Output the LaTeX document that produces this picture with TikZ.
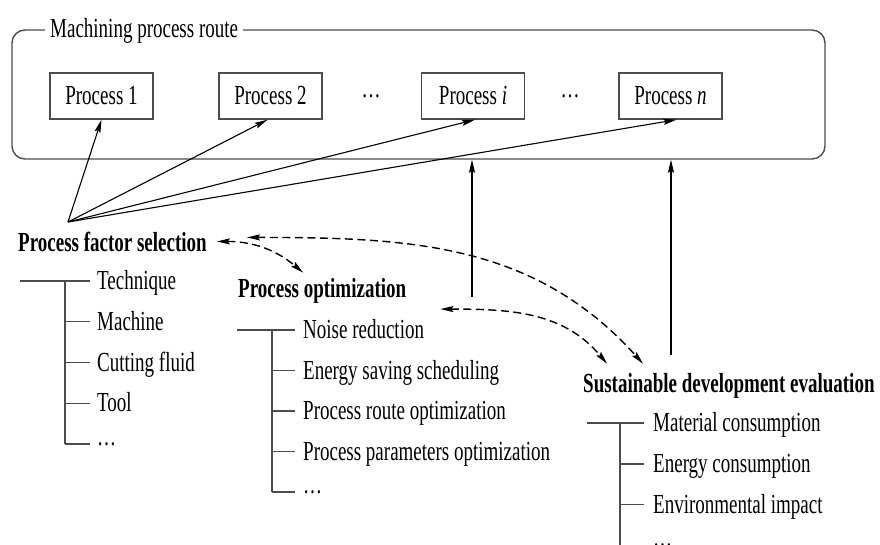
\documentclass[tikz,border=0pt]{standalone}
\usepackage{fontspec}
\setmainfont{Liberation Serif}
\usepackage{graphicx}
\usetikzlibrary{calc}
\usetikzlibrary{positioning}
\usetikzlibrary{arrows.meta}
\definecolor{mygray}{rgb}{0.3,0.3,0.3}

\newcommand{\tall}[1]{\scalebox{1}[1.45]{#1}}
\newcommand{\more}{\raisebox{5pt}{…}}

\begin{document}
\begin{tikzpicture}[%
  >={Stealth[length=13pt,width=6pt,inset=2pt]},
  x=1pt, y=-1pt,
  every node/.style={font=\fontsize{19}{22}\selectfont, inner sep=0pt},
  procbox/.style={draw=mygray, line width=1.4pt, minimum width=103pt, minimum height=46pt},
  heading/.style={anchor=base west, font=\fontsize{19}{22}\selectfont\bfseries},
  item/.style={anchor=base west},
  tree/.style={mygray, line width=1.4pt},
  link/.style={->, line width=1.1pt},
  dlink/.style={<->, line width=1.4pt, dash pattern=on 8pt off 4.5pt},
]

  \useasboundingbox (0,0) rectangle (880,544);

  \coordinate (fan) at (68,222);
  \coordinate (opt) at (472,297);
  \coordinate (eva) at (671,355);

  % route frame and its processes
  \node[draw=mygray, line width=1.4pt, rounded corners=13pt,
        minimum width=813pt, minimum height=129pt] (route) at (418.5,94.5) {};
  \node[anchor=base west, fill=white, inner xsep=5pt] (title) at (45,37)
    {\tall{Machining process route}};

  \node[procbox] (p1) at (101.5,96) {\tall{Process 1}};
  \node[procbox] (p2) at (270.5,96) {\tall{Process 2}};
  \node (d1) at (371,96) {\tall{…}};
  \node[procbox] (pi) at (473,96) {\tall{Process \textit{i}}};
  \node (d2) at (570,96) {\tall{…}};
  \node[procbox] (pn) at (670.5,96) {\tall{Process \textit{n}}};

  \node[heading] (pfs) at (18,251) {\tall{Process factor selection}};
  \node[heading] (po) at (238,297) {\tall{Process optimization}};
  \node[heading] (sde) at (583,392) {\tall{Sustainable development evaluation}};

  % lists
  \draw[tree] (20,281) -- (65,281) -- (65,444);
  \foreach \txt [count=\k] in {Technique, Machine, Cutting fluid, Tool, \more} {
    \pgfmathsetmacro{\yy}{281+40.75*(\k-1)}
    \draw[tree] (65,\yy) -- (90,\yy);
    \node[item] (fac\k) at (97,\yy+8.5) {\tall{\txt}};
  }

  \draw[tree] (237,330) -- (272,330) -- (272,492);
  \foreach \txt [count=\k] in {Noise reduction, Energy saving scheduling,
      Process route optimization, Process parameters optimization, \more} {
    \pgfmathsetmacro{\yy}{330+40.5*(\k-1)}
    \draw[tree] (272,\yy) -- (295,\yy);
    \node[item] (opt\k) at (303,\yy+8.5) {\tall{\txt}};
  }

  \draw[tree] (587,423) -- (620,423) -- (620,560);
  \foreach \txt [count=\k] in {Material consumption, Energy consumption,
      Environmental impact, \more} {
    \pgfmathsetmacro{\yy}{423+40.8*(\k-1)}
    \draw[tree] (620,\yy) -- (644,\yy);
    \node[item] (eva\k) at (653,\yy+8.5) {\tall{\txt}};
  }

  % arrows
  \draw[link] (fan) -- (p1.south);
  \draw[link] (fan) -- ([xshift=-3pt]p2.south);
  \draw[link] (fan) -- ([xshift=2pt]pi.south);
  \draw[link] (fan) -- ([xshift=6pt]pn.south);

  \draw[link] (opt) -- (opt |- route.south);
  \draw[link] (eva) -- (eva |- route.south);

  \draw[dlink] ([xshift=10pt]pfs.east) to[out=0,in=140] ([xshift=-19pt,yshift=5pt]po.north);
  \draw[dlink] ([xshift=40pt,yshift=4pt]pfs.east) to[out=0,in=132] ([xshift=60pt,yshift=9pt]sde.north west);
  \draw[dlink] ([xshift=34pt,yshift=-6pt]po.south east) to[out=0,in=130] ([xshift=24pt,yshift=9pt]sde.north west);

\end{tikzpicture}
\end{document}
